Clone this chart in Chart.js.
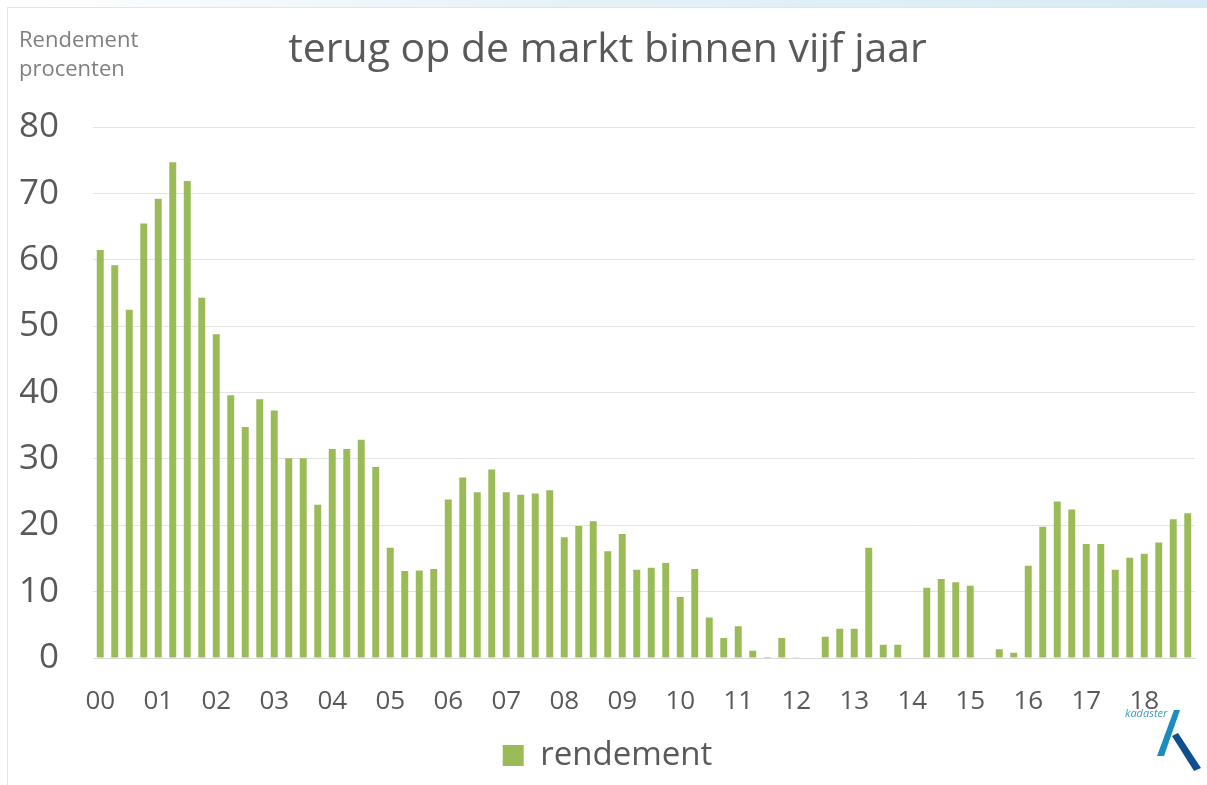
<!DOCTYPE html>
<html>
<head>
<meta charset="utf-8">
<script src="https://cdn.jsdelivr.net/npm/chart.js@4/dist/chart.umd.min.js"></script>
<style>
  html, body { margin: 0; padding: 0; background: #fff; }
  #wrap { position: relative; width: 1207px; height: 785px; overflow: hidden; background: #fff; }
  #band { position: absolute; left: 0; top: 0; width: 1207px; height: 7px;
          background: linear-gradient(to right, #ffffff 0%, #e6f2f8 45%, #d6ebf5 100%); }
  #frame { position: absolute; left: 7px; top: 7px; width: 1200px; height: 778px;
           border-left: 1px solid #e4e4e4; border-top: 1px solid #e4e4e4; }
  #chart { position: absolute; left: 0; top: 0; }
  #yhead { position: absolute; left: 19px; top: 24px; font-family: "Open Sans", sans-serif;
           font-size: 22px; line-height: 29px; color: #7f7f7f; }
  #logo { position: absolute; left: 1120px; top: 700px; width: 87px; height: 85px; }
</style>
</head>
<body>
<div id="wrap">
  <div id="band"></div>
  <div id="frame"></div>
  <canvas id="chart" width="1207" height="785"></canvas>
  <div id="yhead">Rendement<br>procenten</div>
  <svg id="logo" viewBox="0 0 87 85">
    <text x="5" y="17" font-family="Open Sans, sans-serif" font-size="11" font-style="italic" fill="#3a9cc8">kadaster</text>
    <polygon points="54,10 60,10 44,56 37,56" fill="#1a8cc0"/>
    <polygon points="52,36 58,33 81,68 74,71" fill="#0f4f8f"/>
  </svg>
</div>
<script>
// jaren (labels op de x-as) en kwartalen
const years = ["00","01","02","03","04","05","06","07","08","09","10","11","12","13","14","15","16","17","18"];
const quarters = ["K1","K2","K3","K4"];

// rendement per kwartaal, 2000 K1 t/m 2018 K4
const rendement = [
  61.5, 59.2, 52.5, 65.5,   // 00
  69.2, 74.7, 71.9, 54.3,   // 01
  48.8, 39.6, 34.8, 39.0,   // 02
  37.3, 30.1, 30.1, 23.1,   // 03
  31.5, 31.5, 32.9, 28.8,   // 04
  16.6, 13.1, 13.2, 13.4,   // 05
  23.9, 27.2, 25.0, 28.4,   // 06
  25.0, 24.6, 24.8, 25.3,   // 07
  18.2, 19.9, 20.6, 16.1,   // 08
  18.7, 13.3, 13.6, 14.3,   // 09
  9.2, 13.4, 6.1, 3.0,      // 10
  4.8, 1.1, 0.15, 3.0,      // 11
  0.1, 0, 3.2, 4.4,         // 12
  4.4, 16.6, 2.0, 2.0,      // 13
  0, 10.6, 11.9, 11.4,      // 14
  10.9, 0, 1.3, 0.8,        // 15
  13.9, 19.8, 23.6, 22.4,   // 16
  17.2, 17.2, 13.3, 15.1,   // 17
  15.7, 17.4, 20.9, 21.8    // 18
];

const yMin = 0, yMax = 80, yStep = 10;

const labels = [];
years.forEach(y => quarters.forEach(q => labels.push(y + " " + q)));

const grey = "#595959";
const font = "'Open Sans', sans-serif";

const ctx = document.getElementById("chart").getContext("2d");
window.myChart = new Chart(ctx, {
  type: 'bar',
  data: {
    labels: labels,
    datasets: [{
      label: 'rendement',
      data: rendement,
      backgroundColor: '#9bbb59',
      borderWidth: 0,
      categoryPercentage: 1,
      barPercentage: 0.48
    }]
  },
  options: {
    responsive: false,
    animation: false,
    layout: { padding: { left: 20, right: 12, top: 0, bottom: 3 } },
    plugins: {
      title: {
        display: true,
        text: 'terug op de markt binnen vijf jaar',
        color: grey,
        font: { family: font, size: 41, weight: 'normal' },
        padding: { top: 26, bottom: 52 }
      },
      legend: {
        position: 'bottom',
        labels: {
          color: grey,
          boxWidth: 21,
          boxHeight: 21,
          padding: 8,
          font: { family: font, size: 33 }
        }
      },
      tooltip: { enabled: false }
    },
    scales: {
      x: {
        grid: { display: false, drawTicks: false },
        border: { display: true, color: '#d9d9d9' },
        afterFit: function (scale) {
          scale.height = 73;
          scale.paddingLeft = 0;
          scale.paddingRight = 0;
        },
        ticks: {
          color: grey,
          autoSkip: false,
          maxRotation: 0,
          minRotation: 0,
          padding: 28,
          font: { family: font, size: 26 },
          callback: function (val, i) {
            return i % 4 === 0 ? years[i / 4] : '';
          }
        }
      },
      y: {
        min: yMin,
        max: yMax,
        afterFit: function (scale) { scale.width = 73; },
        grid: { color: '#e3e3e3', drawTicks: false },
        border: { display: false },
        ticks: {
          stepSize: yStep,
          color: grey,
          padding: 34,
          font: { family: font, size: 35 }
        }
      }
    }
  }
});
</script>
</body>
</html>
